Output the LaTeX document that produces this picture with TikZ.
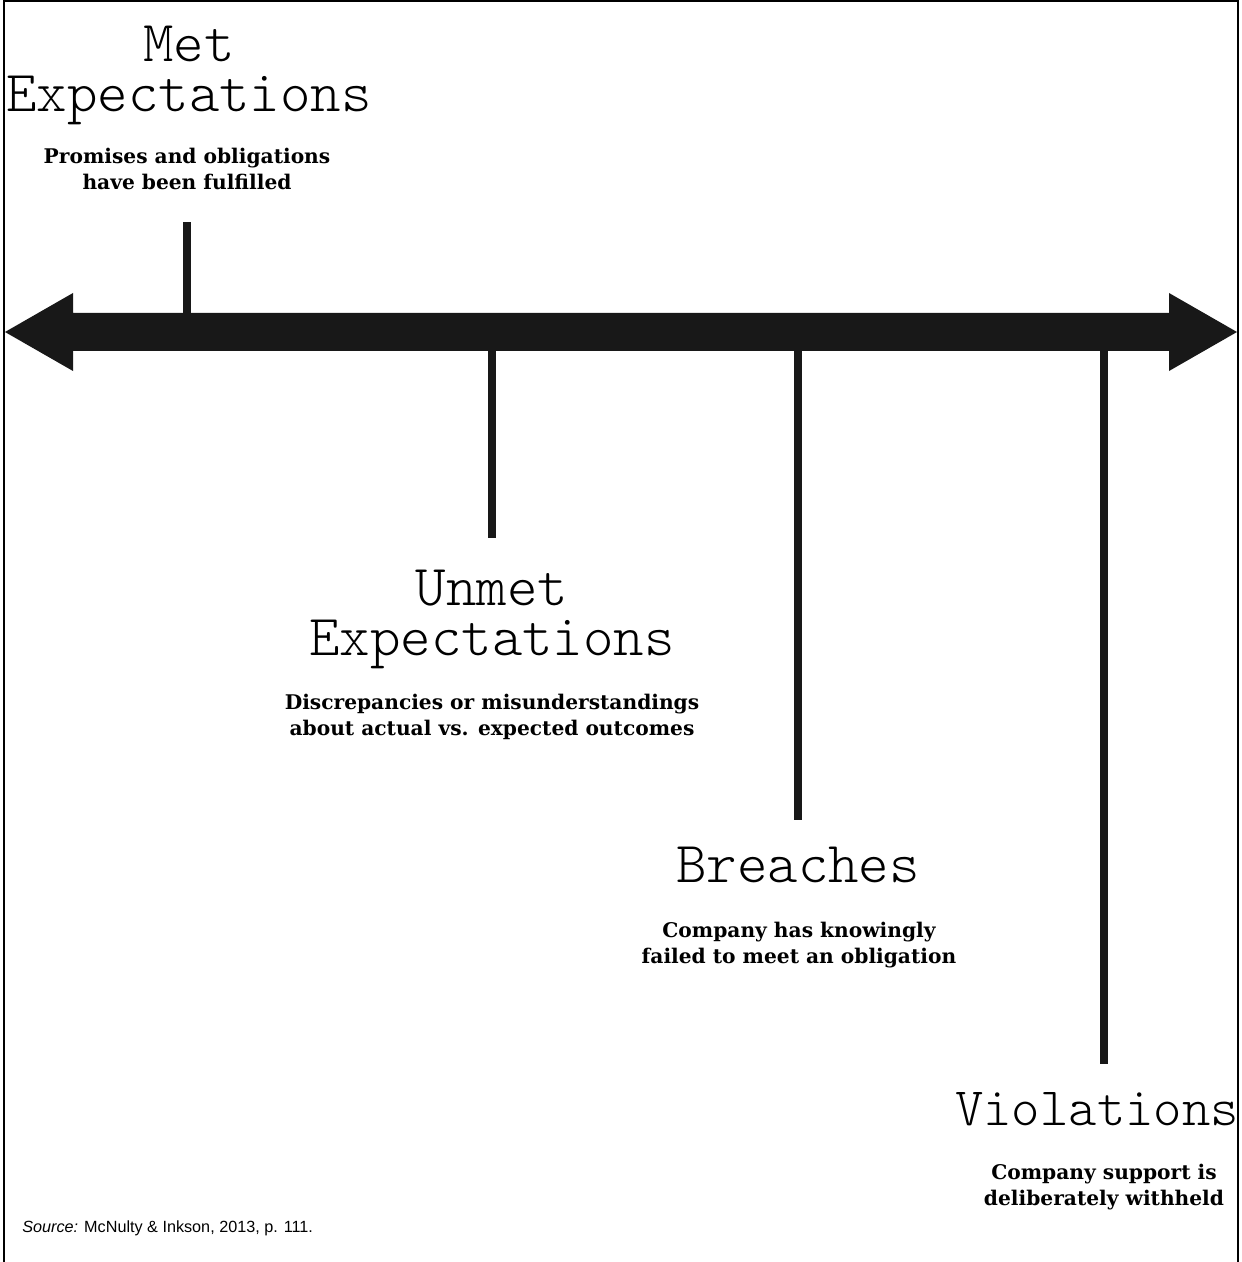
\documentclass[tikz,border=0pt]{standalone}
\usepackage{fontspec}
\setsansfont{Liberation Sans}
\newfontfamily\stagelightfont{lmmonolt10-regular.otf}
\newfontfamily\stageboldfont{DejaVu Serif}
\usetikzlibrary{positioning}

\definecolor{axis}{HTML}{181818}

\tikzset{
  stagetitle/.style={font=\stagelightfont\fontsize{29}{25}\selectfont,
    align=center, inner sep=0pt, anchor=base},
  stagetext/.style={font=\stageboldfont\bfseries\fontsize{10.1}{13}\selectfont,
    align=center, inner sep=0pt, anchor=base},
  stagetick/.style={draw=axis, line width=4.25pt},
}

\begin{document}
\begin{tikzpicture}[x=0.5pt, y=-0.5pt]
	\useasboundingbox (0,0) rectangle (1241,1262);
	% Frame:
	\draw[line width=0.7pt] (4,1262) -- (4,1) -- (1238,1) -- (1238,1262);
	% Axis with two heads:
	\coordinate (lefttip) at (5,332);
	\coordinate (righttip) at (1237,332);
	\fill[axis] (lefttip) -- (73,293) -- (73,313) -- (1169,313) -- (1169,293) -- (righttip)
		-- (1169,371) -- (1169,351) -- (73,351) -- (73,371) -- cycle;
	% Ticks:
	\coordinate (T1) at (187,313);
	\coordinate (T1e) at (187,222);
	\coordinate (T2) at (492,351);
	\coordinate (T2e) at (492,538);
	\coordinate (T3) at (798,351);
	\coordinate (T3e) at (798,820);
	\coordinate (T4) at (1104,351);
	\coordinate (T4e) at (1104,1064);
	\draw[stagetick] (T1) -- (T1e);
	\draw[stagetick] (T2) -- (T2e);
	\draw[stagetick] (T3) -- (T3e);
	\draw[stagetick] (T4) -- (T4e);
	% Labels (base = last line):
	\node[stagetitle](N1) at (189,112){Met\\Expectations};
	\node[stagetext](D1) at (187,190){Promises and obligations\\have been fulfilled};
	\node[stagetitle](N2) at (492,655){Unmet\\Expectations};
	\node[stagetext](D2) at (492,735){Discrepancies or misunderstandings\\about actual vs. expected outcomes};
	\node[stagetitle](N3) at (798,882){Breaches};
	\node[stagetext](D3) at (799,963){Company has knowingly\\failed to meet an obligation};
	\node[stagetitle, font=\stagelightfont\fontsize{27}{25}\selectfont](N4) at (1097,1125){Violations};
	\node[stagetext](D4) at (1104,1205){Company support is\\deliberately withheld};
	\node[anchor=base west, inner sep=0pt, font=\sffamily\fontsize{8.1}{9}\selectfont](S) at (22,1232){\textit{Source:} McNulty \& Inkson, 2013, p. 111.};
\end{tikzpicture}
\end{document}
